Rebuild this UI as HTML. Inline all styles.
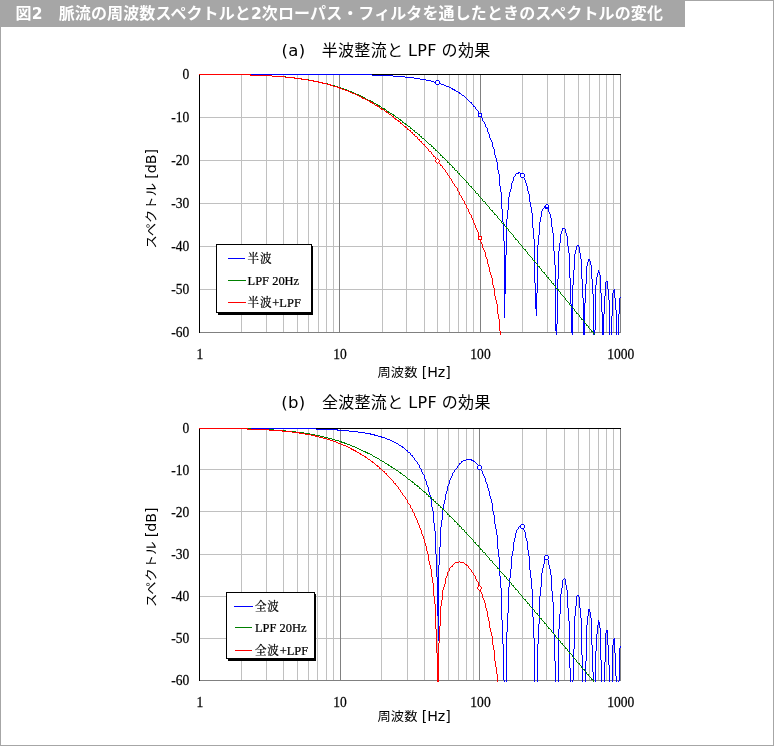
<!DOCTYPE html>
<html lang="ja"><head><meta charset="utf-8"><title>図2</title>
<style>
html,body{margin:0;padding:0;background:#fff;}
body{width:774px;height:746px;overflow:hidden;position:relative;}
svg{position:absolute;left:0;top:0;display:block;}
.cap{font-family:"Liberation Sans","Noto Sans CJK JP",sans-serif;font-weight:bold;font-size:16px;fill:#fff;}
.capd{font-family:"DejaVu Sans",sans-serif;font-size:15.5px;}
.ttl{font-family:"Liberation Sans","Noto Sans CJK JP",sans-serif;font-size:16px;fill:#000;letter-spacing:0.32px;}
.axl{font-family:"DejaVu Sans","Noto Sans CJK JP",sans-serif;font-size:13.3px;fill:#000;}
.cj{font-size:12.4px;letter-spacing:0.9px;}
.axlat{font-size:14.2px;}
.lat{font-family:"DejaVu Sans",sans-serif;font-size:16px;}
.lat2{font-family:"DejaVu Sans",sans-serif;font-size:16.5px;}
.tick{font-family:"Liberation Serif","Noto Serif CJK SC",serif;font-size:15.2px;fill:#000;stroke:#000;stroke-width:0.25px;}
.leg{font-family:"Liberation Serif","Noto Serif CJK SC",serif;font-size:13.4px;fill:#000;stroke:#000;stroke-width:0.25px;}
</style></head><body>
<svg width="774" height="746" viewBox="0 0 774 746">
<rect x="0" y="0" width="774" height="746" fill="#fff"/>
<rect x="0.5" y="0.5" width="773" height="745" fill="none" stroke="#a6a6a6" shape-rendering="crispEdges"/>
<rect x="0" y="0" width="685" height="27" fill="#a6a6a6" shape-rendering="crispEdges"/>
<text class="cap" x="15.6" y="18.8" xml:space="preserve" letter-spacing="0.11">図<tspan class="capd">2</tspan><tspan dx="0">　</tspan>脈流の周波数スペクトルと<tspan class="capd">2</tspan>次ローパス・フィルタを通したときのスペクトルの変化</text>
<path d="M241.5 74V333M266.5 74V333M283.5 74V333M297.5 74V333M308.5 74V333M318.5 74V333M326.5 74V333M333.5 74V333M382.5 74V333M406.5 74V333M424.5 74V333M437.5 74V333M449.5 74V333M458.5 74V333M466.5 74V333M473.5 74V333M522.5 74V333M547.5 74V333M564.5 74V333M578.5 74V333M589.5 74V333M599.5 74V333M606.5 74V333M613.5 74V333M199 117.5H621M199 160.5H621M199 203.5H621M199 246.5H621M199 289.5H621" stroke="#c0c0c0" stroke-width="1" fill="none" shape-rendering="crispEdges"/>
<path d="M339.5 74V333M480.5 74V333" stroke="#808080" stroke-width="1" fill="none" shape-rendering="crispEdges"/>
<path d="M620.5 74V332.5H199" stroke="#808080" fill="none" shape-rendering="crispEdges"/>
<path d="M199.5 333V74.5H621" stroke="#000" fill="none" shape-rendering="crispEdges"/>
<g fill="none" stroke-width="1" shape-rendering="crispEdges">
<path d="M452.5 88v2M454.5 89v2M459.5 92v2M471.5 102v2M473.5 105v2M475.5 107v2M478.5 111v2M479.5 113v2M480.5 115v2M482.5 118v3M484.5 122v2M485.5 124v3M487.5 128v4M488.5 132v2M489.5 134v4M490.5 138v2M491.5 140v2M492.5 142v5M493.5 147v2M494.5 149v6M495.5 155v3M496.5 158v4M497.5 162v8M498.5 170v4M499.5 174v12M500.5 186v6M501.5 192v17M502.5 209v13M503.5 222v19M504.5 241v77M505.5 255v39M506.5 219v36M507.5 210v9M508.5 197v13M509.5 192v5M510.5 189v3M511.5 183v6M512.5 181v2M513.5 177v4M515.5 174v2M518.5 172v2M522.5 174v3M524.5 178v2M525.5 180v3M526.5 183v3M527.5 186v5M528.5 191v3M529.5 194v8M530.5 202v5M531.5 207v6M532.5 213v15M533.5 228v11M534.5 239v44M535.5 283v26M536.5 293v23M537.5 245v48M538.5 235v10M539.5 222v13M540.5 217v5M541.5 211v6M542.5 209v2M544.5 206v2M546.5 205v2M548.5 208v4M549.5 212v2M550.5 214v4M551.5 218v9M552.5 227v6M553.5 233v18M554.5 251v14M555.5 265v66M556.5 324v11M557.5 279v45M558.5 251v28M559.5 243v8M560.5 234v9M561.5 231v3M562.5 228v3M565.5 229v4M566.5 233v3M567.5 236v10M568.5 246v7M569.5 253v25M570.5 278v26M571.5 304v29M572.5 285v50M573.5 270v15M574.5 254v16M575.5 250v4M576.5 246v4M578.5 245v2M579.5 247v6M580.5 253v6M581.5 259v20M582.5 279v19M583.5 298v37M584.5 303v32M585.5 284v19M586.5 266v18M587.5 262v4M588.5 259v3M589.5 259v2M590.5 261v4M591.5 265v14M592.5 279v15M593.5 294v41M594.5 330v5M595.5 285v45M596.5 277v8M597.5 273v4M598.5 270v3M599.5 272v3M600.5 275v18M601.5 293v19M602.5 312v23M603.5 314v21M604.5 296v18M605.5 282v14M607.5 281v8M608.5 289v11M609.5 300v35M611.5 316v19M612.5 293v23M613.5 290v3M614.5 289v9M615.5 298v12M616.5 310v25M618.5 314v21M619.5 298v16M199 74.5h173M372 75.5h21M393 76.5h12M405 77.5h9M414 78.5h6M420 79.5h6M426 80.5h5M431 81.5h3M434 82.5h4M438 83.5h3M441 84.5h3M444 85.5h2M446 86.5h3M449 87.5h2M451 88.5h1M453 89.5h1M455 90.5h1M456 91.5h2M458 92.5h1M460 93.5h1M461 94.5h1M462 95.5h2M464 96.5h1M465 97.5h1M466 98.5h1M467 99.5h1M468 100.5h1M469 101.5h1M470 102.5h1M472 104.5h1M474 106.5h1M476 109.5h1M477 110.5h1M481 117.5h1M483 121.5h1M486 127.5h1M519 172.5h1M516 173.5h2M520 173.5h1M521 174.5h1M514 176.5h1M523 177.5h1M545 205.5h1M547 207.5h1M543 208.5h1M563 228.5h2M577 245.5h1M606 281.5h1M620 297.5h1" stroke="#0000ff"/>
<path d="M250.5 74v2M285.5 76v2M308.5 79v2M327.5 83v2M334.5 85v2M337.5 86v2M346.5 89v2M348.5 90v2M351.5 91v2M353.5 92v2M355.5 93v2M358.5 94v2M360.5 95v2M362.5 96v2M370.5 100v2M372.5 101v2M377.5 104v2M379.5 105v2M384.5 108v2M388.5 111v2M393.5 114v2M400.5 119v2M402.5 121v2M405.5 123v2M410.5 127v2M414.5 130v2M419.5 134v2M421.5 136v2M431.5 145v2M433.5 147v2M435.5 149v2M440.5 154v2M442.5 156v2M447.5 161v2M449.5 163v2M452.5 166v2M454.5 168v2M457.5 171v2M459.5 173v2M466.5 181v2M468.5 183v2M471.5 186v2M475.5 191v2M478.5 194v2M482.5 199v2M485.5 202v2M489.5 207v2M492.5 210v2M494.5 213v2M497.5 216v2M501.5 221v2M504.5 224v2M506.5 227v2M508.5 229v2M513.5 235v2M515.5 238v2M518.5 241v2M522.5 246v2M525.5 249v2M527.5 252v2M532.5 258v2M534.5 260v2M537.5 264v2M539.5 266v2M541.5 269v2M544.5 272v2M546.5 275v2M548.5 277v2M551.5 281v2M553.5 283v2M555.5 286v2M558.5 289v2M560.5 292v2M565.5 298v2M569.5 303v2M574.5 309v2M576.5 312v2M579.5 315v2M581.5 318v2M584.5 321v2M586.5 324v2M588.5 326v2M591.5 330v2M593.5 332v2M199 74.5h51M251 75.5h21M272 76.5h13M286 77.5h9M295 78.5h7M302 79.5h6M309 80.5h5M314 81.5h5M319 82.5h4M323 83.5h4M328 84.5h3M331 85.5h3M335 86.5h2M338 87.5h3M341 88.5h3M344 89.5h2M347 90.5h1M349 91.5h2M352 92.5h1M354 93.5h1M356 94.5h2M359 95.5h1M361 96.5h1M363 97.5h2M365 98.5h1M366 99.5h2M368 100.5h2M371 101.5h1M373 102.5h1M374 103.5h2M376 104.5h1M378 105.5h1M380 106.5h1M381 107.5h1M382 108.5h2M385 109.5h1M386 110.5h1M387 111.5h1M389 112.5h1M390 113.5h2M392 114.5h1M394 115.5h1M395 116.5h1M396 117.5h2M398 118.5h1M399 119.5h1M401 120.5h1M403 122.5h1M404 123.5h1M406 124.5h1M407 125.5h1M408 126.5h2M411 128.5h1M412 129.5h1M413 130.5h1M415 132.5h2M417 133.5h1M418 134.5h1M420 136.5h1M422 138.5h2M424 139.5h1M425 140.5h1M426 141.5h1M427 142.5h1M428 143.5h1M429 144.5h2M432 146.5h1M434 148.5h1M436 150.5h1M437 151.5h1M438 152.5h1M439 153.5h1M441 155.5h1M443 157.5h1M444 158.5h1M445 159.5h1M446 160.5h1M448 162.5h1M450 164.5h1M451 165.5h1M453 167.5h1M455 170.5h2M458 173.5h1M460 175.5h1M461 176.5h1M462 177.5h1M463 178.5h1M464 179.5h1M465 180.5h1M467 182.5h1M469 185.5h1M470 186.5h1M472 188.5h1M473 189.5h1M474 190.5h1M476 193.5h2M479 196.5h1M480 197.5h1M481 198.5h1M483 201.5h2M486 204.5h1M487 205.5h1M488 206.5h1M490 209.5h1M491 210.5h1M493 212.5h1M495 214.5h1M496 215.5h1M498 218.5h1M499 219.5h1M500 220.5h1M502 223.5h2M505 226.5h1M507 228.5h1M509 231.5h1M510 232.5h1M511 233.5h1M512 234.5h1M514 237.5h1M516 239.5h1M517 240.5h1M519 243.5h1M520 244.5h1M521 245.5h1M523 248.5h1M524 249.5h1M526 251.5h1M528 254.5h1M529 255.5h1M530 256.5h1M531 257.5h1M533 260.5h1M535 262.5h1M536 263.5h1M538 266.5h1M540 268.5h1M542 271.5h1M543 272.5h1M545 274.5h1M547 277.5h1M549 279.5h1M550 280.5h1M552 283.5h1M554 285.5h1M556 288.5h1M557 289.5h1M559 291.5h1M561 294.5h1M562 295.5h1M563 296.5h1M564 297.5h1M566 300.5h1M567 301.5h1M568 302.5h1M570 305.5h1M571 306.5h1M572 307.5h1M573 308.5h1M575 311.5h1M577 313.5h1M578 314.5h1M580 317.5h1M582 319.5h1M583 320.5h1M585 323.5h1M587 325.5h1M589 328.5h1M590 329.5h1M592 331.5h1M594 334.5h1" stroke="#008000"/>
<path d="M250.5 74v2M294.5 77v2M301.5 78v2M313.5 80v2M318.5 81v2M322.5 82v2M330.5 84v2M339.5 87v2M362.5 97v2M370.5 101v2M372.5 102v2M377.5 105v2M381.5 108v2M386.5 111v2M393.5 116v2M395.5 118v2M398.5 120v2M400.5 122v2M405.5 126v2M407.5 128v2M410.5 130v2M412.5 132v2M414.5 134v2M417.5 137v2M419.5 139v2M421.5 141v2M424.5 144v2M428.5 149v2M431.5 152v2M433.5 155v2M435.5 157v2M438.5 161v2M440.5 164v2M442.5 166v2M445.5 170v2M447.5 173v2M449.5 176v2M451.5 179v2M452.5 181v2M454.5 184v2M457.5 188v3M459.5 192v3M461.5 196v2M462.5 198v2M464.5 201v3M466.5 205v3M468.5 209v3M469.5 212v2M471.5 215v3M472.5 218v2M473.5 220v3M474.5 223v2M475.5 225v3M476.5 228v2M477.5 230v2M478.5 232v4M479.5 236v2M480.5 238v4M481.5 242v2M482.5 244v4M483.5 248v2M484.5 250v2M485.5 252v5M486.5 257v2M487.5 259v5M488.5 264v3M489.5 267v5M490.5 272v3M491.5 275v3M492.5 278v7M493.5 285v3M494.5 288v8M495.5 296v4M496.5 300v4M497.5 304v10M498.5 314v5M499.5 319v12M500.5 331v4M199 74.5h51M251 75.5h21M272 76.5h13M285 77.5h9M295 78.5h6M302 79.5h6M308 80.5h5M314 81.5h4M319 82.5h3M323 83.5h4M327 84.5h3M331 85.5h2M333 86.5h4M337 87.5h2M340 88.5h2M342 89.5h3M345 90.5h3M348 91.5h2M350 92.5h2M352 93.5h3M355 94.5h2M357 95.5h2M359 96.5h2M361 97.5h1M363 98.5h2M365 99.5h2M367 100.5h2M369 101.5h1M371 102.5h1M373 103.5h1M374 104.5h1M375 105.5h2M378 106.5h1M379 107.5h1M380 108.5h1M382 109.5h2M384 110.5h1M385 111.5h1M387 112.5h1M388 113.5h1M389 114.5h2M391 115.5h1M392 116.5h1M394 118.5h1M396 119.5h1M397 120.5h1M399 121.5h1M401 123.5h1M402 124.5h1M403 125.5h1M404 126.5h1M406 127.5h1M408 129.5h1M409 130.5h1M411 132.5h1M413 134.5h1M415 136.5h2M418 139.5h1M420 141.5h1M422 143.5h1M423 144.5h1M425 146.5h1M426 147.5h1M427 148.5h1M429 151.5h2M432 154.5h1M434 156.5h1M436 159.5h1M437 160.5h1M439 163.5h1M441 165.5h1M443 168.5h1M444 169.5h1M446 172.5h1M448 175.5h1M450 178.5h1M453 183.5h1M455 186.5h1M456 187.5h1M458 191.5h1M460 195.5h1M463 200.5h1M465 204.5h1M467 208.5h1M470 214.5h1" stroke="#ff0000"/>
</g>
<g shape-rendering="crispEdges"><path d="M436 80h3v1h1v3h-1v1h-3v-1h-1v-3h1z" fill="#0000ff"/><rect x="436" y="81" width="3" height="3" fill="#fff"/><rect x="478" y="113" width="4" height="4" fill="#0000ff"/><rect x="479" y="114" width="2" height="2" fill="#fff"/><path d="M521 173h3v1h1v3h-1v1h-3v-1h-1v-3h1z" fill="#0000ff"/><rect x="521" y="174" width="3" height="3" fill="#fff"/><path d="M546 204h2v1h1v4h-4v-4h1z" fill="#0000ff"/><rect x="546" y="205" width="2" height="2" fill="#fff"/><path d="M437 158h1v1h1v1h1v2h-1v1h-1v1h-1v-1h-1v-1h-1v-2h1v-1h1z" fill="#ff0000"/><path d="M437 159h1v1h1v2h-1v1h-1v-1h-1v-2h1z" fill="#fff"/><rect x="478" y="236" width="4" height="4" fill="#ff0000"/><rect x="479" y="237" width="2" height="2" fill="#fff"/></g>
<g class="tick"><text transform="translate(189.3 79.3) scale(0.89 1)" text-anchor="end">0</text><text transform="translate(189.3 122.3) scale(0.89 1)" text-anchor="end">-10</text><text transform="translate(189.3 165.3) scale(0.89 1)" text-anchor="end">-20</text><text transform="translate(189.3 208.3) scale(0.89 1)" text-anchor="end">-30</text><text transform="translate(189.3 251.3) scale(0.89 1)" text-anchor="end">-40</text><text transform="translate(189.3 294.3) scale(0.89 1)" text-anchor="end">-50</text><text transform="translate(189.3 337.3) scale(0.89 1)" text-anchor="end">-60</text><text transform="translate(199.8 359.4) scale(0.89 1)" text-anchor="middle">1</text><text transform="translate(340.1 359.4) scale(0.89 1)" text-anchor="middle">10</text><text transform="translate(480.5 359.4) scale(0.89 1)" text-anchor="middle">100</text><text transform="translate(620.8 359.4) scale(0.89 1)" text-anchor="middle">1000</text></g>
<text class="ttl" x="386" y="56.3" text-anchor="middle" xml:space="preserve"><tspan class="lat2">(a)</tspan>　半波整流と <tspan class="lat">LPF</tspan> の効果</text>
<text class="axl" transform="translate(414.2 376.6) scale(1 0.93)" text-anchor="middle">周波数 <tspan class="axlat">[Hz]</tspan></text>
<text class="axl" transform="translate(155.6 198.8) rotate(-90) scale(1 0.93)" text-anchor="middle">スペクトル <tspan class="axlat">[dB]</tspan></text>
<path d="M218 313H313V246H312V313M218 313V315H313V313Z" fill="#000" shape-rendering="crispEdges"/>
<rect x="216.5" y="244.5" width="95" height="68" fill="#fff" stroke="#000" shape-rendering="crispEdges"/>
<path d="M228 258.5H245" stroke="#0000ff" shape-rendering="crispEdges"/>
<text class="leg" transform="translate(247.6 263.1) scale(0.93 1)"><tspan class="cj">半波</tspan></text>
<path d="M228 280.5H246" stroke="#008000" shape-rendering="crispEdges"/>
<text class="leg" transform="translate(247.6 285.1) scale(0.93 1)">LPF 20Hz</text>
<path d="M228 302.5H246" stroke="#ff0000" shape-rendering="crispEdges"/>
<text class="leg" transform="translate(247.6 307.1) scale(0.93 1)"><tspan class="cj">半波</tspan>+LPF</text>
<path d="M241.5 428V681M266.5 428V681M283.5 428V681M297.5 428V681M308.5 428V681M317.5 428V681M326.5 428V681M333.5 428V681M381.5 428V681M407.5 428V681M424.5 428V681M437.5 428V681M448.5 428V681M458.5 428V681M466.5 428V681M473.5 428V681M522.5 428V681M546.5 428V681M564.5 428V681M578.5 428V681M589.5 428V681M598.5 428V681M606.5 428V681M613.5 428V681M199 469.5H621M199 511.5H621M199 554.5H621M199 596.5H621M199 638.5H621" stroke="#c0c0c0" stroke-width="1" fill="none" shape-rendering="crispEdges"/>
<path d="M340.5 428V681M479.5 428V681" stroke="#808080" stroke-width="1" fill="none" shape-rendering="crispEdges"/>
<path d="M620.5 428V680.5H199" stroke="#808080" fill="none" shape-rendering="crispEdges"/>
<path d="M199.5 681V428.5H621" stroke="#000" fill="none" shape-rendering="crispEdges"/>
<g fill="none" stroke-width="1" shape-rendering="crispEdges">
<path d="M337.5 429v2M370.5 433v2M374.5 434v2M381.5 436v2M402.5 446v2M407.5 450v2M410.5 453v2M412.5 455v2M414.5 458v2M417.5 462v2M419.5 465v3M421.5 469v3M422.5 472v2M424.5 475v4M425.5 479v2M426.5 481v4M427.5 485v2M428.5 487v5M429.5 492v3M430.5 495v4M431.5 499v8M432.5 507v4M433.5 511v12M434.5 523v8M435.5 531v23M436.5 554v23M437.5 577v39M438.5 565v76M439.5 547v18M440.5 527v20M441.5 520v7M442.5 509v11M443.5 504v5M444.5 500v4M445.5 494v6M446.5 491v3M447.5 486v5M448.5 484v2M449.5 480v4M450.5 478v2M451.5 476v2M452.5 473v3M454.5 470v2M457.5 466v2M459.5 463v2M461.5 461v2M471.5 459v2M473.5 460v2M478.5 465v2M480.5 468v2M482.5 471v3M483.5 474v2M484.5 476v2M485.5 478v4M486.5 482v2M487.5 484v4M488.5 488v3M489.5 491v5M490.5 496v3M491.5 499v4M492.5 503v8M493.5 511v4M494.5 515v9M495.5 524v5M496.5 529v6M497.5 535v14M498.5 549v8M499.5 557v19M500.5 576v12M501.5 588v32M502.5 620v24M503.5 644v36M504.5 680v2M506.5 632v50M507.5 613v19M508.5 587v26M509.5 578v9M510.5 569v9M511.5 556v13M512.5 551v5M513.5 542v9M514.5 538v4M515.5 533v5M516.5 530v3M518.5 527v2M522.5 526v3M524.5 530v2M525.5 532v6M526.5 538v3M527.5 541v9M528.5 550v6M529.5 556v14M530.5 570v8M531.5 578v11M532.5 589v28M533.5 617v21M534.5 638v44M537.5 644v38M538.5 624v20M539.5 596v28M540.5 587v9M541.5 573v14M542.5 568v5M543.5 564v4M544.5 559v5M547.5 558v2M548.5 560v5M549.5 565v4M550.5 569v6M551.5 575v16M552.5 591v11M553.5 602v32M554.5 634v27M555.5 661v21M558.5 629v53M559.5 614v15M560.5 594v20M561.5 588v6M562.5 580v8M565.5 579v6M566.5 585v5M567.5 590v18M568.5 608v13M569.5 621v47M570.5 668v14M572.5 680v2M573.5 649v31M574.5 616v33M575.5 606v10M576.5 596v10M578.5 595v2M579.5 597v11M580.5 608v10M581.5 618v37M582.5 655v27M585.5 661v21M586.5 625v36M587.5 616v9M588.5 609v7M589.5 609v3M590.5 612v6M591.5 618v27M592.5 645v27M593.5 672v10M595.5 651v31M596.5 634v17M597.5 625v9M598.5 620v5M599.5 622v6M600.5 628v32M601.5 660v22M604.5 662v20M605.5 633v29M606.5 630v3M607.5 630v15M608.5 645v20M609.5 665v17M612.5 645v37M613.5 639v6M614.5 638v15M615.5 653v23M616.5 676v6M619.5 648v33M620.5 646v2M199 428.5h117M316 429.5h21M338 430.5h11M349 431.5h9M358 432.5h7M365 433.5h5M371 434.5h3M375 435.5h3M378 436.5h3M382 437.5h3M385 438.5h2M387 439.5h3M390 440.5h2M392 441.5h2M394 442.5h2M396 443.5h2M398 444.5h1M399 445.5h2M401 446.5h1M403 447.5h1M404 448.5h1M405 449.5h1M406 450.5h1M408 452.5h2M411 455.5h1M413 457.5h1M466 459.5h5M415 460.5h1M463 460.5h3M472 460.5h1M416 461.5h1M462 461.5h1M474 461.5h1M475 462.5h1M460 463.5h1M476 463.5h1M418 464.5h1M477 464.5h1M458 465.5h1M479 467.5h1M420 468.5h1M456 468.5h1M455 469.5h1M481 470.5h1M453 472.5h1M423 474.5h1M520 525.5h2M519 526.5h1M517 529.5h1M523 529.5h1M546 557.5h1M545 558.5h1M564 578.5h1M563 579.5h1M577 595.5h1M618 681.5h1" stroke="#0000ff"/>
<path d="M273.5 429v2M341.5 441v2M344.5 442v2M365.5 451v2M367.5 452v2M388.5 464v2M391.5 466v2M400.5 472v2M412.5 481v2M414.5 483v2M417.5 485v2M419.5 487v2M424.5 491v2M426.5 493v2M428.5 495v2M431.5 497v2M433.5 499v2M435.5 501v2M438.5 504v2M440.5 506v2M442.5 508v2M447.5 513v2M449.5 515v2M454.5 520v2M457.5 523v2M459.5 525v2M461.5 527v2M464.5 530v2M466.5 532v2M473.5 540v2M475.5 542v2M478.5 545v2M480.5 548v2M482.5 550v2M485.5 553v2M489.5 558v2M492.5 561v2M497.5 567v2M499.5 569v2M504.5 575v2M506.5 577v2M511.5 583v2M513.5 585v2M515.5 588v2M518.5 591v2M522.5 596v2M525.5 599v2M527.5 602v2M529.5 604v2M534.5 610v2M537.5 613v2M539.5 616v2M541.5 618v2M544.5 622v2M546.5 624v2M548.5 627v2M551.5 630v2M555.5 635v2M558.5 638v2M560.5 641v2M562.5 643v2M565.5 647v2M567.5 649v2M569.5 652v2M572.5 655v2M576.5 660v2M579.5 663v2M581.5 666v2M584.5 669v2M586.5 672v2M588.5 674v2M591.5 678v2M593.5 680v2M199 428.5h52M251 429.5h22M274 430.5h12M286 431.5h10M296 432.5h8M304 433.5h6M310 434.5h5M315 435.5h5M320 436.5h4M324 437.5h4M328 438.5h4M332 439.5h3M335 440.5h4M339 441.5h2M342 442.5h2M345 443.5h2M347 444.5h3M350 445.5h2M352 446.5h3M355 447.5h2M357 448.5h2M359 449.5h2M361 450.5h2M363 451.5h2M366 452.5h1M368 453.5h2M370 454.5h2M372 455.5h1M373 456.5h2M375 457.5h2M377 458.5h2M379 459.5h1M380 460.5h2M382 461.5h2M384 462.5h1M385 463.5h2M387 464.5h1M389 465.5h1M390 466.5h1M392 467.5h1M393 468.5h2M395 469.5h1M396 470.5h2M398 471.5h1M399 472.5h1M401 473.5h1M402 474.5h1M403 475.5h2M405 476.5h1M406 477.5h1M407 478.5h1M408 479.5h2M410 480.5h1M411 481.5h1M413 482.5h1M415 484.5h1M416 485.5h1M418 486.5h1M420 488.5h1M421 489.5h1M422 490.5h1M423 491.5h1M425 492.5h1M427 494.5h1M429 496.5h1M430 497.5h1M432 499.5h1M434 501.5h1M436 503.5h2M439 505.5h1M441 507.5h1M443 509.5h1M444 510.5h1M445 511.5h1M446 512.5h1M448 514.5h1M450 516.5h1M451 517.5h1M452 518.5h1M453 519.5h1M455 521.5h1M456 522.5h1M458 524.5h1M460 526.5h1M462 529.5h2M465 532.5h1M467 534.5h1M468 535.5h1M469 536.5h1M470 537.5h1M471 538.5h1M472 539.5h1M474 542.5h1M476 544.5h1M477 545.5h1M479 547.5h1M481 549.5h1M483 552.5h2M486 555.5h1M487 556.5h1M488 557.5h1M490 560.5h2M493 563.5h1M494 564.5h1M495 565.5h1M496 566.5h1M498 568.5h1M500 571.5h1M501 572.5h1M502 573.5h1M503 574.5h1M505 576.5h1M507 579.5h1M508 580.5h1M509 581.5h1M510 582.5h1M512 585.5h1M514 587.5h1M516 589.5h1M517 590.5h1M519 593.5h1M520 594.5h1M521 595.5h1M523 598.5h1M524 599.5h1M526 601.5h1M528 603.5h1M530 606.5h1M531 607.5h1M532 608.5h1M533 609.5h1M535 612.5h1M536 613.5h1M538 615.5h1M540 618.5h1M542 620.5h1M543 621.5h1M545 623.5h1M547 626.5h1M549 628.5h1M550 629.5h1M552 632.5h1M553 633.5h1M554 634.5h1M556 637.5h1M557 638.5h1M559 640.5h1M561 643.5h1M563 645.5h1M564 646.5h1M566 648.5h1M568 651.5h1M570 653.5h1M571 654.5h1M573 657.5h1M574 658.5h1M575 659.5h1M577 662.5h1M578 663.5h1M580 665.5h1M582 668.5h1M583 669.5h1M585 671.5h1M587 674.5h1M589 676.5h1M590 677.5h1M592 679.5h1" stroke="#008000"/>
<path d="M247.5 428v2M282.5 430v2M299.5 432v2M315.5 435v2M351.5 448v2M353.5 449v2M355.5 450v2M360.5 453v2M365.5 456v2M372.5 461v2M377.5 465v2M379.5 467v2M384.5 471v2M386.5 473v2M393.5 481v2M395.5 483v2M398.5 487v2M400.5 490v2M402.5 493v2M405.5 497v2M407.5 500v3M410.5 505v3M412.5 509v3M414.5 513v3M415.5 516v2M416.5 518v2M417.5 520v3M418.5 523v2M419.5 525v3M420.5 528v2M421.5 530v4M422.5 534v2M423.5 536v3M424.5 539v4M425.5 543v3M426.5 546v5M427.5 551v3M428.5 554v7M429.5 561v4M430.5 565v4M431.5 569v8M432.5 577v6M433.5 583v13M434.5 596v8M435.5 604v25M436.5 629v24M437.5 653v29M438.5 643v39M439.5 626v17M440.5 606v20M441.5 600v6M442.5 590v10M443.5 587v3M444.5 584v3M445.5 578v6M446.5 576v2M447.5 572v4M449.5 568v3M452.5 565v2M466.5 564v2M468.5 566v2M471.5 570v2M473.5 573v2M475.5 576v3M476.5 579v2M478.5 582v4M479.5 586v2M480.5 588v4M481.5 592v2M482.5 594v4M483.5 598v2M484.5 600v3M485.5 603v5M486.5 608v3M487.5 611v6M488.5 617v4M489.5 621v7M490.5 628v4M491.5 632v4M492.5 636v9M493.5 645v5M494.5 650v11M495.5 661v6M496.5 667v7M497.5 674v8M199 428.5h48M248 429.5h21M269 430.5h13M283 431.5h9M292 432.5h7M300 433.5h5M305 434.5h6M311 435.5h4M316 436.5h3M319 437.5h4M323 438.5h4M327 439.5h3M330 440.5h3M333 441.5h3M336 442.5h2M338 443.5h3M341 444.5h2M343 445.5h3M346 446.5h2M348 447.5h2M350 448.5h1M352 449.5h1M354 450.5h1M356 451.5h1M357 452.5h2M359 453.5h1M361 454.5h1M362 455.5h2M364 456.5h1M366 457.5h1M367 458.5h1M368 459.5h2M370 460.5h1M371 461.5h1M373 462.5h1M374 463.5h1M375 464.5h1M376 465.5h1M378 466.5h1M380 468.5h1M381 469.5h1M382 470.5h1M383 471.5h1M385 473.5h1M387 475.5h1M388 476.5h1M389 477.5h1M390 478.5h1M391 479.5h1M392 480.5h1M394 483.5h1M396 485.5h1M397 486.5h1M399 489.5h1M401 492.5h1M403 495.5h1M404 496.5h1M406 499.5h1M408 503.5h1M409 504.5h1M411 508.5h1M413 512.5h1M459 561.5h1M455 562.5h4M460 562.5h4M454 563.5h1M464 563.5h1M453 564.5h1M465 564.5h1M467 565.5h1M451 566.5h1M450 567.5h1M469 568.5h1M470 569.5h1M448 571.5h1M472 572.5h1M474 575.5h1M477 581.5h1" stroke="#ff0000"/>
</g>
<g shape-rendering="crispEdges"><path d="M478 465h3v1h1v3h-1v1h-3v-1h-1v-3h1z" fill="#0000ff"/><rect x="478" y="466" width="3" height="3" fill="#fff"/><path d="M521 524h3v1h1v3h-1v1h-3v-1h-1v-3h1z" fill="#0000ff"/><rect x="521" y="525" width="3" height="3" fill="#fff"/><path d="M545 555h3v1h1v3h-1v1h-3v-1h-1v-3h1z" fill="#0000ff"/><rect x="545" y="556" width="3" height="3" fill="#fff"/><path d="M479 585h1v1h1v1h1v2h-1v1h-1v1h-1v-1h-1v-1h-1v-2h1v-1h1z" fill="#ff0000"/><path d="M479 586h1v1h1v2h-1v1h-1v-1h-1v-2h1z" fill="#fff"/></g>
<g class="tick"><text transform="translate(189.3 433.3) scale(0.89 1)" text-anchor="end">0</text><text transform="translate(189.3 475.3) scale(0.89 1)" text-anchor="end">-10</text><text transform="translate(189.3 517.3) scale(0.89 1)" text-anchor="end">-20</text><text transform="translate(189.3 559.3) scale(0.89 1)" text-anchor="end">-30</text><text transform="translate(189.3 601.3) scale(0.89 1)" text-anchor="end">-40</text><text transform="translate(189.3 643.3) scale(0.89 1)" text-anchor="end">-50</text><text transform="translate(189.3 685.3) scale(0.89 1)" text-anchor="end">-60</text><text transform="translate(199.8 707.4) scale(0.89 1)" text-anchor="middle">1</text><text transform="translate(340.1 707.4) scale(0.89 1)" text-anchor="middle">10</text><text transform="translate(480.5 707.4) scale(0.89 1)" text-anchor="middle">100</text><text transform="translate(620.8 707.4) scale(0.89 1)" text-anchor="middle">1000</text></g>
<text class="ttl" x="386" y="407.8" text-anchor="middle" xml:space="preserve"><tspan class="lat2">(b)</tspan>　全波整流と <tspan class="lat">LPF</tspan> の効果</text>
<text class="axl" transform="translate(414.2 720.8) scale(1 0.93)" text-anchor="middle">周波数 <tspan class="axlat">[Hz]</tspan></text>
<text class="axl" transform="translate(155.6 557.3) rotate(-90) scale(1 0.93)" text-anchor="middle">スペクトル <tspan class="axlat">[dB]</tspan></text>
<path d="M228 659H316V594H315V659M228 659V661H316V659Z" fill="#000" shape-rendering="crispEdges"/>
<rect x="226.5" y="592.5" width="88" height="66" fill="#fff" stroke="#000" shape-rendering="crispEdges"/>
<path d="M234 606.5H253" stroke="#0000ff" shape-rendering="crispEdges"/>
<text class="leg" transform="translate(255 611.1) scale(0.93 1)"><tspan class="cj">全波</tspan></text>
<path d="M235 627.5H252" stroke="#008000" shape-rendering="crispEdges"/>
<text class="leg" transform="translate(255 632.1) scale(0.93 1)">LPF 20Hz</text>
<path d="M235 650.5H252" stroke="#ff0000" shape-rendering="crispEdges"/>
<text class="leg" transform="translate(255 655.1) scale(0.93 1)"><tspan class="cj">全波</tspan>+LPF</text>
</svg>
</body></html>
